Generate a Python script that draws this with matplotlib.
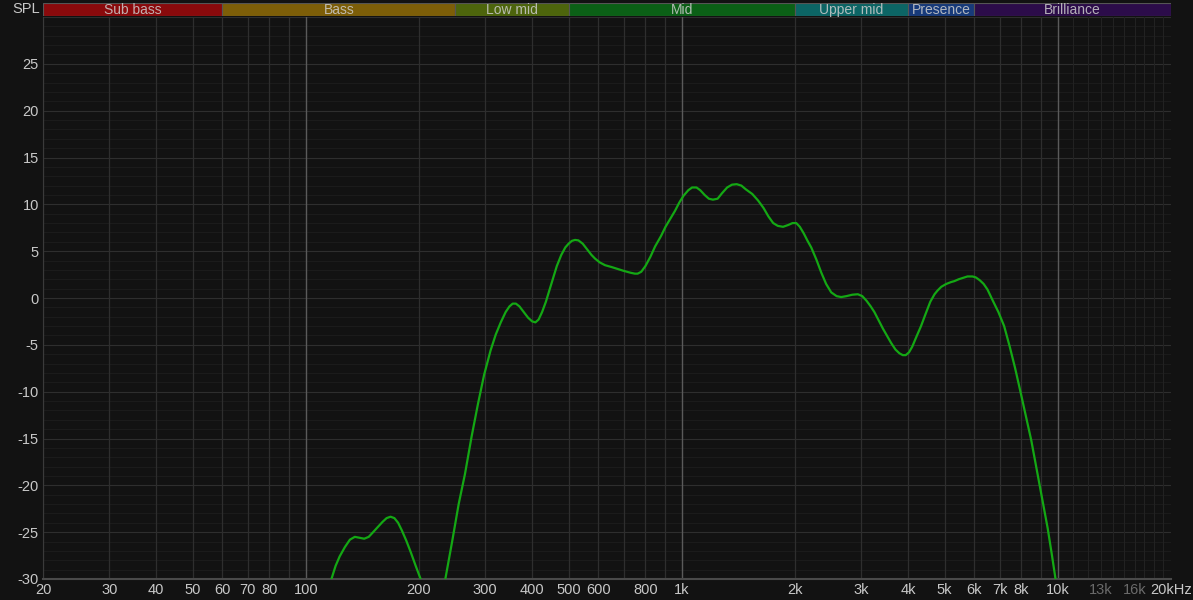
import numpy as np
import matplotlib.pyplot as plt
from matplotlib.patches import Rectangle

plt.rcParams['font.family'] = ['Liberation Sans', 'DejaVu Sans']
plt.rcParams['axes.unicode_minus'] = False

# frequency response (Hz, dB); two visible pieces, clipped at -30
freq_low = [117, 120, 123, 127, 131, 135, 139, 143, 147, 151, 155, 160, 164, 168,
            172, 176, 180, 185, 190, 196, 202]
spl_low = [-30.0, -28.6, -27.6, -26.6, -25.8, -25.5, -25.6, -25.7, -25.5, -25.0, -24.5,
           -23.9, -23.5, -23.35, -23.5, -24.0, -24.8, -25.9, -27.1, -28.6, -30.0]

freq_main = [235, 245, 255, 265, 276, 287, 298, 310, 320, 330, 340, 348, 355, 362, 370,
             380, 390, 400, 408, 416, 425, 435, 445, 455, 465, 478, 490, 500, 510, 520,
             531, 545, 560, 575, 588, 605, 625, 651, 675, 700, 730, 750, 763, 780, 800,
             825, 849, 880, 905, 930, 959, 985, 1010, 1040, 1065, 1094, 1120, 1150, 1180,
             1210, 1245, 1280, 1320, 1360, 1400, 1440, 1480, 1540, 1596, 1650, 1700, 1750,
             1800, 1859, 1920, 1970, 2016, 2060, 2110, 2160, 2209, 2280, 2350, 2420, 2497,
             2580, 2654, 2740, 2840, 2939, 3020, 3100, 3180, 3252, 3340, 3430, 3520, 3603,
             3700, 3790, 3870, 3940, 4020, 4100, 4200, 4327, 4450, 4580, 4700, 4789, 4900,
             5050, 5200, 5306, 5450, 5600, 5750, 5930, 6050, 6200, 6350, 6502, 6700, 6950,
             7199, 7450, 7700, 7965, 8200, 8500, 8826, 9100, 9400, 9650, 9862]
spl_main = [-30.0, -26.0, -22.0, -18.8, -14.8, -11.3, -8.2, -5.6, -3.9, -2.6, -1.5, -0.9,
            -0.6, -0.6, -0.9, -1.5, -2.1, -2.5, -2.6, -2.3, -1.5, -0.4, 0.9, 2.2, 3.4, 4.6,
            5.4, 5.8, 6.1, 6.2, 6.15, 5.8, 5.2, 4.6, 4.2, 3.8, 3.5, 3.3, 3.1, 2.9, 2.7, 2.6,
            2.6, 2.8, 3.4, 4.4, 5.5, 6.6, 7.6, 8.4, 9.3, 10.2, 10.9, 11.5, 11.8, 11.8, 11.5,
            11.0, 10.6, 10.5, 10.6, 11.2, 11.8, 12.1, 12.15, 12.0, 11.6, 11.1, 10.4, 9.6, 8.7,
            8.0, 7.7, 7.6, 7.8, 8.0, 8.0, 7.6, 6.9, 6.1, 5.4, 4.1, 2.7, 1.5, 0.6, 0.2, 0.1,
            0.2, 0.35, 0.4, 0.2, -0.3, -0.9, -1.5, -2.4, -3.3, -4.1, -4.8, -5.5, -5.9, -6.1,
            -6.1, -5.8, -5.2, -4.2, -3.0, -1.7, -0.4, 0.4, 0.8, 1.2, 1.5, 1.7, 1.8, 2.0, 2.15,
            2.3, 2.3, 2.2, 1.9, 1.5, 0.9, -0.2, -1.5, -3.0, -5.2, -7.5, -10.1, -12.4, -15.2,
            -18.7, -21.5, -24.6, -27.5, -30.0]

band_names = ['Sub bass', 'Bass', 'Low mid', 'Mid', 'Upper mid', 'Presence', 'Brilliance']
band_edges = [20, 60, 250, 500, 2000, 4000, 6000, 20000]
band_colors = ['#8a0a0c', '#7d5e08', '#4d650c', '#0b6016', '#0c6565', '#173a7a', '#2c0c4a']

x_ticks = [20, 30, 40, 50, 60, 70, 80, 100, 200, 300, 400, 500, 600, 800,
           1000, 2000, 3000, 4000, 5000, 6000, 7000, 8000, 10000, 13000, 16000, 20000]
x_labels = ['20', '30', '40', '50', '60', '70', '80', '100', '200', '300', '400', '500', '600', '800',
            '1k', '2k', '3k', '4k', '5k', '6k', '7k', '8k', '10k', '13k', '16k', '20kHz']
y_ticks = [-30, -25, -20, -15, -10, -5, 0, 5, 10, 15, 20, 25]

BG = '#121212'
TXT = '#c8c8c8'

fig = plt.figure(figsize=(11.93, 6), dpi=100, facecolor=BG)
W, H = 1193, 600
left, right, top, bottom = 43, 1171, 17, 579
ax = fig.add_axes([left / W, (H - bottom) / H, (right - left) / W, (bottom - top) / H])
ax.set_facecolor(BG)
ax.set_xscale('log')
ax.set_xlim(20, 20000)
ax.set_ylim(-30, 30)

# grid
for y in range(-30, 31):
    ax.axhline(y, color='#2e2e2e' if y % 5 == 0 else '#1b1b1b', lw=0.8, zorder=0)
vlines = list(range(20, 100, 10)) + list(range(100, 1000, 100)) + \
    list(range(1000, 10000, 1000)) + list(range(10000, 20001, 1000))
for v in vlines:
    if v in (100, 1000, 10000):
        ax.axvline(v, color='#5a5a5a', lw=1.0, zorder=1)
    elif v > 10000:
        ax.axvline(v, color='#222222', lw=0.8, zorder=1)
    else:
        ax.axvline(v, color='#2e2e2e', lw=0.9, zorder=1)

ax.plot(freq_low, spl_low, color='#14a814', lw=1.6, zorder=3)
ax.plot(freq_main, spl_main, color='#14a814', lw=1.6, zorder=3)

for s in ax.spines.values():
    s.set_visible(False)
ax.spines['left'].set_visible(True)
ax.spines['bottom'].set_visible(True)
ax.spines['left'].set_color('#3a3a3a')
ax.spines['bottom'].set_color('#4a4a4a')
ax.spines['bottom'].set_linewidth(1.5)

ax.set_xticks(x_ticks)
ax.set_xticklabels(x_labels)
ax.xaxis.set_minor_locator(plt.NullLocator())
ax.set_yticks(y_ticks)
ax.tick_params(axis='both', length=0, colors=TXT, labelsize=10.5)
ax.tick_params(axis='x', pad=3)
ax.tick_params(axis='y', pad=3)
for lbl in ax.get_xticklabels():
    if lbl.get_text() in ('13k', '16k'):
        lbl.set_color('#6a6a6a')

fig.text(40 / W, 1 - 9 / H, 'SPL', color=TXT, fontsize=10.5, ha='right', va='center')

# frequency band bar
bar = fig.add_axes([left / W, (H - 16) / H, (right - left) / W, 13 / H])
bar.set_xscale('log')
bar.set_xlim(20, 20000)
bar.set_ylim(0, 1)
bar.axis('off')
for name, lo, hi, c in zip(band_names, band_edges[:-1], band_edges[1:], band_colors):
    bar.add_patch(Rectangle((lo, 0), hi - lo, 1, facecolor=c, edgecolor='#555555', lw=0.8))
    bar.text(np.sqrt(lo * hi), 0.45, name, color='#cccccc', fontsize=10, ha='center', va='center', alpha=0.85)

fig.savefig('out.png', dpi=100, facecolor=BG)
